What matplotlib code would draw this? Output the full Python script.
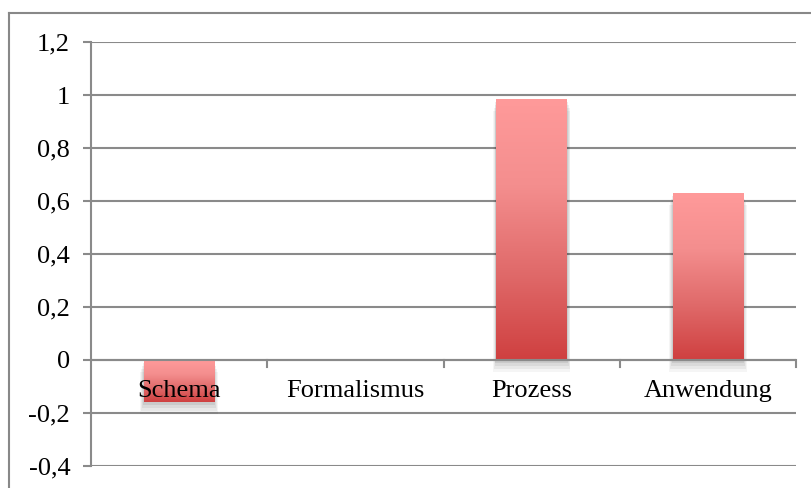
import numpy as np
import matplotlib.pyplot as plt
from matplotlib.colors import LinearSegmentedColormap
from matplotlib.patches import Rectangle
from matplotlib.lines import Line2D

categories = ["Schema", "Formalismus", "Prozess", "Anwendung"]
values = [-0.158, 0.0, 0.985, 0.63]
yticks = [-0.4, -0.2, 0, 0.2, 0.4, 0.6, 0.8, 1, 1.2]

plt.rcParams['font.family'] = ['Liberation Serif', 'DejaVu Serif']

fig = plt.figure(figsize=(8.11, 4.88), dpi=100)
ax = fig.add_axes([91 / 811, 1 - 466 / 488, 705 / 811, 424 / 488])

grid_col = '#8a8a8a'
# gradient from light pink at the top of each bar to dark red at the bottom
cmap = LinearSegmentedColormap.from_list('bar', ['#ff9a9a', '#f48e8e', '#e06a6a', '#cf4040'])
grad = np.linspace(0, 1, 256).reshape(-1, 1)

for y in yticks:
    ax.axhline(y, color=grid_col, lw=1.5, zorder=1)

bars = ax.bar(range(len(categories)), values, width=0.4, color='none', zorder=3)
for b in bars:
    x0, y0 = b.get_x(), b.get_y()
    w, h = b.get_width(), b.get_height()
    if abs(h) < 1e-6:
        continue
    bottom, top = min(y0, y0 + h), max(y0, y0 + h)
    # soft drop shadow, mostly under the bar
    for k, a in enumerate([0.04, 0.05, 0.06, 0.07]):
        dx = 0.01 * (4 - k)
        dy = 0.011 * (4 - k)
        ax.add_patch(Rectangle((x0 - dx / 2, bottom - dy), w + dx, top - bottom,
                               facecolor='black', alpha=a, lw=0, zorder=2))
    im = ax.imshow(grad, cmap=cmap, aspect='auto', extent=(x0, x0 + w, bottom, top),
                   origin='upper', zorder=4, interpolation='bicubic')
    im.set_clip_path(b)

ax.set_xlim(-0.5, len(categories) - 0.5)
ax.set_ylim(-0.4, 1.2)
ax.set_yticks(yticks)
ax.set_yticklabels([f"{t:g}".replace('.', ',') for t in yticks])
ax.set_xticks([])

for s in ['top', 'right', 'bottom']:
    ax.spines[s].set_visible(False)
ax.spines['left'].set_color(grid_col)
ax.spines['left'].set_linewidth(1.5)
ax.tick_params(axis='y', length=6, width=1.5, color=grid_col, pad=9, labelsize=19)

# category axis at zero with tick marks between categories
ax.axhline(0, color=grid_col, lw=1.5, zorder=5)
for i in range(len(categories)):
    ax.plot([i + 0.5, i + 0.5], [0, -0.025], color=grid_col, lw=1.5, zorder=5, clip_on=False)
for i, c in enumerate(categories):
    ax.text(i, -0.117, c, ha='center', va='center', fontsize=19, zorder=6)

# chart area border
fig.add_artist(Line2D([9 / 811, 9 / 811], [0, 1 - 13 / 488], color='#888888', lw=1.5))
fig.add_artist(Line2D([9 / 811, 1], [1 - 13 / 488, 1 - 13 / 488], color='#888888', lw=1.5))

fig.savefig('out.png', dpi=100)
